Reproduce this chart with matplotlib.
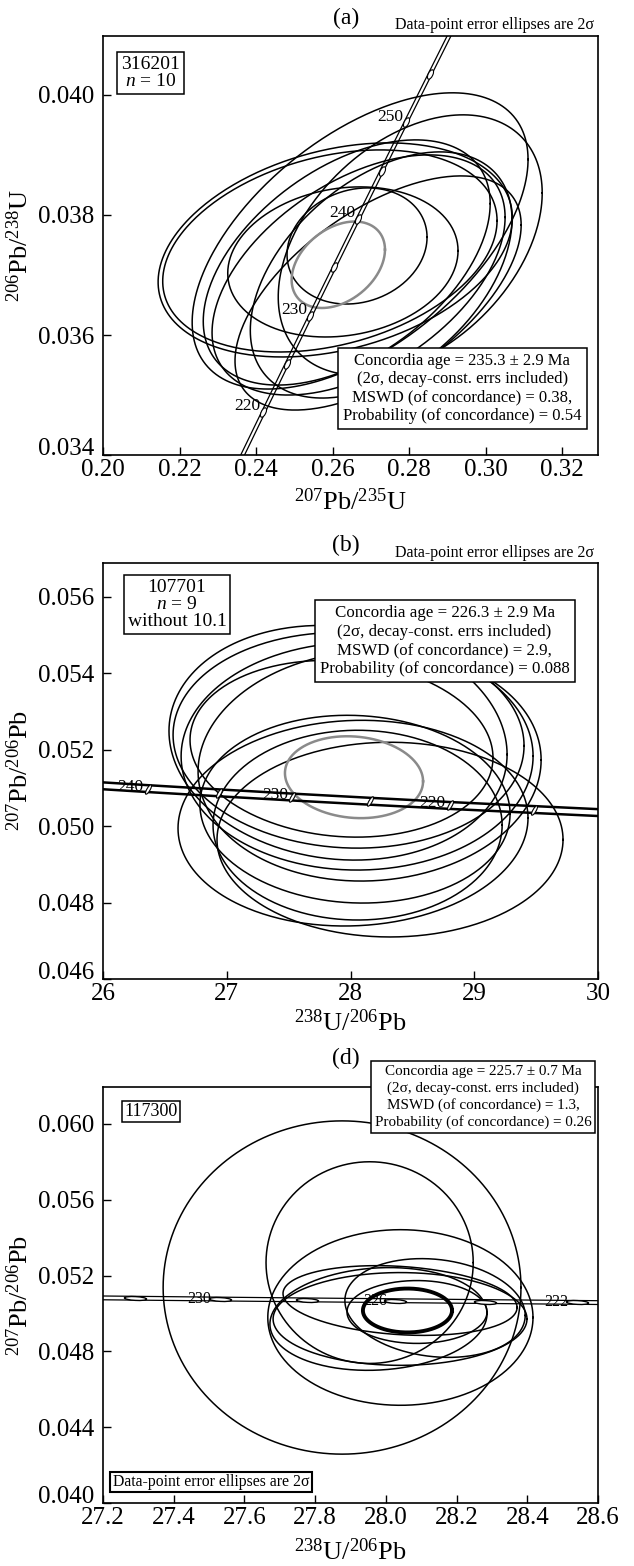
import numpy as np
import matplotlib
matplotlib.use("Agg")
import matplotlib.pyplot as plt
from matplotlib.path import Path
from matplotlib.transforms import Affine2D

plt.rcParams["font.family"] = ["Liberation Serif", "DejaVu Serif"]
plt.rcParams["mathtext.fontset"] = "custom"
plt.rcParams["mathtext.rm"] = "Liberation Serif"
plt.rcParams["mathtext.it"] = "Liberation Serif:italic"
plt.rcParams["mathtext.bf"] = "Liberation Serif:bold"

# ---------------- Panel (a): Wetherill concordia ----------------
a_conc_age = [200, 205, 210, 215, 220, 225, 230, 235, 240, 245, 250, 255, 260, 265, 270]
a_conc_x = [0.21771, 0.22372, 0.22976, 0.23583, 0.24193, 0.24806, 0.25422, 0.26041,
            0.26664, 0.27289, 0.27917, 0.28549, 0.29183, 0.29821, 0.30462]
a_conc_y = [0.031511, 0.032312, 0.033113, 0.033914, 0.034717, 0.035519, 0.036323, 0.037126,
            0.037932, 0.038737, 0.039543, 0.040349, 0.041157, 0.041965, 0.042774]
a_mark_age = [220, 225, 230, 235, 240, 245, 250, 255]
a_label_age = [220, 230, 240, 250]

a_cx = [0.2672, 0.2803, 0.2607, 0.2593, 0.2637, 0.2668, 0.2627, 0.2664, 0.2719, 0.2727]
a_sx = [0.0439, 0.0345, 0.0463, 0.0437, 0.0375, 0.0383, 0.0301, 0.0183, 0.0374, 0.0342]
a_cy = [0.037567, 0.0375, 0.037417, 0.0374, 0.037208, 0.037, 0.037217, 0.037483, 0.0367, 0.037]
a_sy = [0.002467, 0.002167, 0.001783, 0.001683, 0.002042, 0.002, 0.00125, 0.000967, 0.00195, 0.00205]
a_rho = [0.55, 0.4, 0.3, 0.3, 0.48, 0.48, 0.15, 0.15, 0.58, 0.45]
a_mean = [0.2615, 0.03717, 0.0122, 0.00072, 0.35]   # cx, cy, sx, sy, rho

a_xticks = [0.20, 0.22, 0.24, 0.26, 0.28, 0.30, 0.32]
a_xticklabels = ["0.20", "0.22", "0.24", "0.26", "0.28", "0.30", "0.32"]
a_yticks = [0.034, 0.036, 0.038, 0.040]
a_yticklabels = ["0.034", "0.036", "0.038", "0.040"]

# ---------------- Panel (b): Tera-Wasserburg ----------------
b_conc_age = [200, 205, 210, 215, 220, 225, 230, 235, 240, 245, 250]
b_conc_x = [31.735, 30.948, 30.200, 29.486, 28.804, 28.154, 27.531, 26.935, 26.363, 25.815, 25.289]
b_conc_y = [0.050109, 0.050216, 0.050324, 0.050434, 0.050541, 0.050652, 0.050761, 0.050872,
            0.050982, 0.051093, 0.051203]
b_mark_age = [215, 220, 225, 230, 235, 240]
b_label_age = [220, 230, 240]

b_cx = [27.899, 27.984, 28.053, 28.154, 27.927, 28.319, 28.020, 28.036, 28.057]
b_sx = [1.366, 1.418, 1.422, 1.386, 1.224, 1.398, 1.414, 1.253, 1.168]
b_cy = [0.052183, 0.052248, 0.051830, 0.051582, 0.052026, 0.049647, 0.050078, 0.050444, 0.050026]
b_sy = [0.003072, 0.002824, 0.002980, 0.003020, 0.002314, 0.002549, 0.002693, 0.002458, 0.002484]
b_rho = [-0.1, -0.05, 0.0, 0.05, -0.1, 0.0, 0.05, -0.05, 0.0]
b_mean = [28.028, 0.051281, 0.558, 0.001072, -0.1]

b_xticks = [26, 27, 28, 29, 30]
b_xticklabels = ["26", "27", "28", "29", "30"]
b_yticks = [0.046, 0.048, 0.050, 0.052, 0.054, 0.056]
b_yticklabels = ["0.046", "0.048", "0.050", "0.052", "0.054", "0.056"]

# ---------------- Panel (d): Tera-Wasserburg ----------------
d_conc_age = [220, 222, 224, 226, 228, 230, 232, 234]
d_conc_x = [28.804, 28.5405, 28.2813, 28.0269, 27.7762, 27.5307, 27.2896, 27.0519]
d_conc_y = [0.050541, 0.050585, 0.050629, 0.050674, 0.050717, 0.050761, 0.050806, 0.050850]
d_mark_age = [222, 224, 226, 228, 230, 232]
d_label_age = [222, 226, 230]

d_cx = [27.876, 27.954, 28.041, 28.040, 28.040, 28.139, 28.088, 27.979]
d_sx = [0.506, 0.293, 0.375, 0.331, 0.359, 0.255, 0.198, 0.307]
d_cy = [0.05137, 0.052684, 0.049789, 0.050684, 0.049711, 0.050289, 0.050079, 0.049711]
d_sy = [0.00879, 0.00532, 0.004632, 0.00184, 0.002447, 0.002605, 0.001658, 0.00271]
d_rho = [0.0, 0.0, 0.0, -0.2, 0.0, -0.15, 0.0, 0.1]
d_mean = [28.061, 0.050158, 0.126, 0.001158, 0.0]

d_xticks = [27.2, 27.4, 27.6, 27.8, 28.0, 28.2, 28.4, 28.6]
d_xticklabels = ["27.2", "27.4", "27.6", "27.8", "28.0", "28.2", "28.4", "28.6"]
d_yticks = [0.040, 0.044, 0.048, 0.052, 0.056, 0.060]
d_yticklabels = ["0.040", "0.044", "0.048", "0.052", "0.056", "0.060"]

# ---------------- helpers ----------------
T = np.linspace(0, 2 * np.pi, 361)


def draw_ellipse(ax, cx, cy, sx, sy, rho, **kw):
    x = cx + sx * np.cos(T)
    y = cy + sy * (rho * np.cos(T) + np.sqrt(1 - rho ** 2) * np.sin(T))
    ax.plot(x, y, **kw)


def ell_marker(angle, ratio):
    c = Path.unit_circle()
    v = Affine2D().scale(1.0, ratio).rotate_deg(angle).transform(c.vertices)
    return Path(v, c.codes)


def style(ax, xlim, ylim, xt, xtl, yt, ytl):
    ax.set_xlim(*xlim)
    ax.set_ylim(*ylim)
    ax.set_xticks(xt)
    ax.set_xticklabels(xtl)
    ax.set_yticks(yt)
    ax.set_yticklabels(ytl)
    ax.tick_params(direction="in", length=6, width=1, labelsize=18,
                   top=False, right=False)
    ax.tick_params(axis="x", pad=3)
    ax.tick_params(axis="y", pad=6)
    for s in ax.spines.values():
        s.set_linewidth(1.2)
    # lowest y label sits slightly above the corner, as in the original
    ax.get_yticklabels()[0].set_va("baseline")


fig = plt.figure(figsize=(6.34, 15.66), dpi=100)
L, W = 0.1625, 0.7808
ax_a = fig.add_axes([L, 0.7094, W, 0.2676])
ax_b = fig.add_axes([L, 0.3749, W, 0.2656])
ax_d = fig.add_axes([L, 0.0402, W, 0.2657])

box_kw = dict(boxstyle="square,pad=0.3", fc="white", ec="black", lw=1.1)

# ---------------- draw (a) ----------------
ax = ax_a
for i in range(len(a_cx)):
    draw_ellipse(ax, a_cx[i], a_cy[i], a_sx[i], a_sy[i], a_rho[i], color="black", lw=1.1)
draw_ellipse(ax, a_mean[0], a_mean[1], a_mean[2], a_mean[3], a_mean[4], color="#8a8a8a", lw=1.8)
ax.plot(np.array(a_conc_x) - 0.0005, a_conc_y, color="black", lw=0.9)
ax.plot(np.array(a_conc_x) + 0.0005, a_conc_y, color="black", lw=0.9)
mx = [a_conc_x[a_conc_age.index(t)] for t in a_mark_age]
my = [a_conc_y[a_conc_age.index(t)] for t in a_mark_age]
ax.plot(mx, my, ls="none", marker=ell_marker(64, 0.45), ms=7, mfc="white", mec="black", mew=0.8)
for t in a_label_age:
    k = a_conc_age.index(t)
    ax.annotate(str(t), (a_conc_x[k], a_conc_y[k]), xytext=(-2, 4), textcoords="offset points",
                ha="right", va="center", fontsize=12.5)
style(ax, (0.20, 0.3294), (0.034, 0.04098), a_xticks, a_xticklabels, a_yticks, a_yticklabels)
ax.set_xlabel(r"$^{207}$Pb/$^{235}$U", fontsize=19)
ax.set_ylabel(r"$^{206}$Pb/$^{238}$U", fontsize=19)
ax.xaxis.set_label_coords(0.5, -0.079)
ax.yaxis.set_label_coords(-0.141, 0.5)
ax.text(0.096, 0.912, "316201\n$n$ = 10", transform=ax.transAxes, ha="center", va="center",
        fontsize=14, linespacing=1.0, multialignment="center",
        bbox=dict(boxstyle="square,pad=0.2", fc="white", ec="black", lw=1.1), zorder=10)
ax.text(0.726, 0.159, "Concordia age = 235.3 ± 2.9 Ma\n(2σ, decay-const. errs included)\n"
        "MSWD (of concordance) = 0.38,\nProbability (of concordance) = 0.54",
        transform=ax.transAxes, ha="center", va="center", fontsize=12, linespacing=1.2,
        multialignment="center", bbox=box_kw, zorder=10)

# ---------------- draw (b) ----------------
ax = ax_b
for i in range(len(b_cx)):
    draw_ellipse(ax, b_cx[i], b_cy[i], b_sx[i], b_sy[i], b_rho[i], color="black", lw=1.1)
draw_ellipse(ax, b_mean[0], b_mean[1], b_mean[2], b_mean[3], b_mean[4], color="#8a8a8a", lw=1.8)
ax.plot(b_conc_x, np.array(b_conc_y) + 0.00009, color="black", lw=1.8)
ax.plot(b_conc_x, np.array(b_conc_y) - 0.00009, color="black", lw=1.8)
mx = [b_conc_x[b_conc_age.index(t)] for t in b_mark_age]
my = [b_conc_y[b_conc_age.index(t)] for t in b_mark_age]
ax.plot(mx, my, ls="none", marker=ell_marker(60, 0.3), ms=7, mfc="white", mec="black", mew=0.8)
for t in b_label_age:
    k = b_conc_age.index(t)
    ax.annotate(str(t), (b_conc_x[k], b_conc_y[k]), xytext=(-3, 1.5), textcoords="offset points",
                ha="right", va="center", fontsize=12.5)
style(ax, (26, 30), (0.046, 0.05689), b_xticks, b_xticklabels, b_yticks, b_yticklabels)
ax.set_xlabel(r"$^{238}$U/$^{206}$Pb", fontsize=19)
ax.set_ylabel(r"$^{207}$Pb/$^{206}$Pb", fontsize=19)
ax.xaxis.set_label_coords(0.5, -0.0745)
ax.yaxis.set_label_coords(-0.141, 0.5)
ax.text(0.1495, 0.900, "107701\n$n$ = 9\nwithout 10.1", transform=ax.transAxes, ha="center",
        va="center", fontsize=14, linespacing=1.0, multialignment="center",
        bbox=dict(boxstyle="square,pad=0.2", fc="white", ec="black", lw=1.1), zorder=10)
ax.text(0.690, 0.8125, "Concordia age = 226.3 ± 2.9 Ma\n(2σ, decay-const. errs included)\n"
        "MSWD (of concordance) = 2.9,\nProbability (of concordance) = 0.088",
        transform=ax.transAxes, ha="center", va="center", fontsize=12.2, linespacing=1.2,
        multialignment="center", bbox=box_kw, zorder=10)

# ---------------- draw (d) ----------------
ax = ax_d
for i in range(len(d_cx)):
    draw_ellipse(ax, d_cx[i], d_cy[i], d_sx[i], d_sy[i], d_rho[i], color="black", lw=1.1)
draw_ellipse(ax, d_mean[0], d_mean[1], d_mean[2], d_mean[3], d_mean[4], color="black", lw=2.8)
ax.plot(d_conc_x, np.array(d_conc_y) + 0.0001, color="black", lw=0.9)
ax.plot(d_conc_x, np.array(d_conc_y) - 0.0001, color="black", lw=0.9)
mx = [d_conc_x[d_conc_age.index(t)] for t in d_mark_age]
my = [d_conc_y[d_conc_age.index(t)] for t in d_mark_age]
ax.plot(mx, my, ls="none", marker=ell_marker(-3, 0.17), ms=16, mfc="white", mec="black", mew=1.0)
for t in d_label_age:
    k = d_conc_age.index(t)
    ax.annotate(str(t), (d_conc_x[k], d_conc_y[k]), xytext=(-6, 0), textcoords="offset points",
                ha="right", va="center", fontsize=11.5)
style(ax, (27.2, 28.6), (0.040, 0.06195), d_xticks, d_xticklabels, d_yticks, d_yticklabels)
ax.set_xlabel(r"$^{238}$U/$^{206}$Pb", fontsize=19)
ax.set_ylabel(r"$^{207}$Pb/$^{206}$Pb", fontsize=19)
ax.xaxis.set_label_coords(0.5, -0.084)
ax.yaxis.set_label_coords(-0.141, 0.5)
ax.text(0.097, 0.941, "117300", transform=ax.transAxes, ha="center", va="center",
        fontsize=13, bbox=dict(boxstyle="square,pad=0.12", fc="white", ec="black", lw=1.1), zorder=10)
ax.text(0.218, 0.0505, "Data-point error ellipses are 2σ", transform=ax.transAxes, ha="center",
        va="center", fontsize=11.3,
        bbox=dict(boxstyle="square,pad=0.15", fc="white", ec="black", lw=1.5), zorder=10)
ax.text(0.768, 0.976, "Concordia age = 225.7 ± 0.7 Ma\n(2σ, decay-const. errs included)\n"
        "MSWD (of concordance) = 1.3,\nProbability (of concordance) = 0.26",
        transform=ax.transAxes, ha="center", va="center", fontsize=10.9, linespacing=1.3,
        multialignment="center", bbox=dict(boxstyle="square,pad=0.25", fc="white", ec="black", lw=1.1),
        zorder=10, clip_on=False)

# ---------------- panel titles ----------------
fig.text(346 / 634, 1 - 18 / 1566, "(a)", ha="center", va="center", fontsize=17)
fig.text(594 / 634, 1 - 25 / 1566, "Data-point error ellipses are 2σ", ha="right", va="center", fontsize=11.5)
fig.text(346 / 634, 1 - 545 / 1566, "(b)", ha="center", va="center", fontsize=17)
fig.text(594 / 634, 1 - 553 / 1566, "Data-point error ellipses are 2σ", ha="right", va="center", fontsize=11.5)
fig.text(346 / 634, 1 - 1058 / 1566, "(d)", ha="center", va="center", fontsize=17)

fig.savefig("out.png", dpi=100)
